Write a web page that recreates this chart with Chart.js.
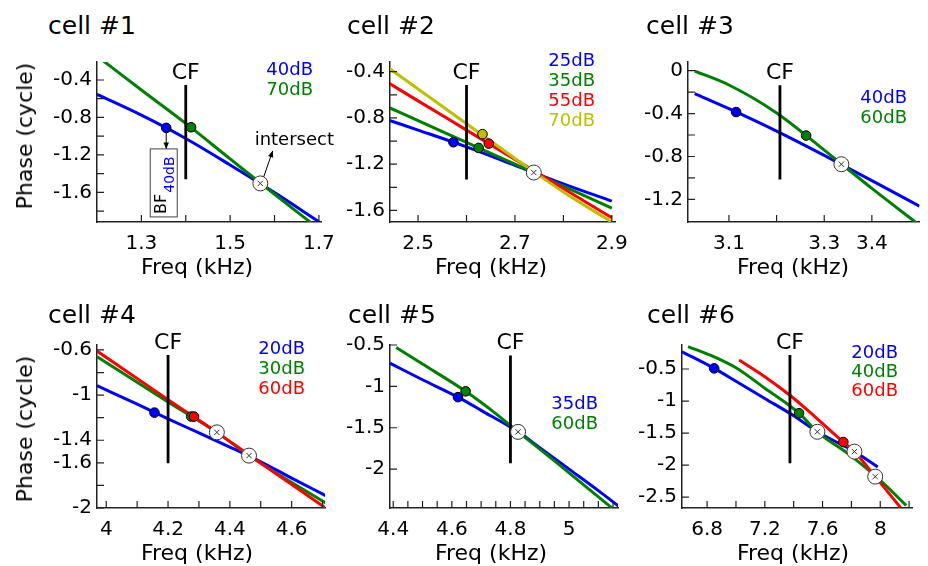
<!DOCTYPE html>
<html>
<head>
<meta charset="utf-8">
<script src="https://cdn.jsdelivr.net/npm/chart.js@4.4.1/dist/chart.umd.min.js"></script>
<style>
body{margin:0;background:#fff;width:928px;height:566px;position:relative;overflow:hidden;font-family:"DejaVu Sans",sans-serif;}
canvas{position:absolute;}
.t{position:absolute;white-space:nowrap;color:#000;}
.title{font-size:25px;line-height:30px;}
.xl{font-size:22px;line-height:26px;transform:translateX(-50%);}
.yl{font-size:22px;line-height:26px;transform:translate(-50%,-50%) rotate(-90deg);}
.lg{font-size:18px;line-height:20px;text-align:right;transform:translateX(-100%);}
</style>
</head>
<body>
<script>
const BLUE = '#0000ff', GREEN = '#008000', RED = '#ff0000', YELLOW = '#bfbf00';
const FONT = '"DejaVu Sans", sans-serif';

// ---- cell #1 ----
const c1Freq = [1.2, 1.3, 1.4, 1.5, 1.6, 1.7];
const c1Phase40 = [-0.553, -0.776, -1.025, -1.308, -1.603, -1.914];
const c1Phase70 = [-0.144, -0.507, -0.864, -1.243, -1.621, -1.99];
const c1DotFreq = [1.356, 1.412];
const c1DotPhase = [-0.912, -0.905];
const c1CrossFreq = [1.568];
const c1CrossPhase = [-1.505];
const c1CF = 1.4;
const c1CFPhase = [-0.453, -1.46];
const c1XTicks = [1.3, 1.4, 1.5, 1.6, 1.7];
const c1XText = ['1.3', '', '1.5', '', '1.7'];
const c1YTicks = [-0.4, -0.6, -0.8, -1.0, -1.2, -1.4, -1.6, -1.8];
const c1YText = ['-0.4', '', '-0.8', '', '-1.2', '', '-1.6', ''];

// ---- cell #2 ----
const c2Freq = [2.44, 2.5, 2.6, 2.7, 2.8, 2.9];
const c2Phase25 = [-0.82, -0.905, -1.05, -1.21, -1.37, -1.52];
const c2Phase35 = [-0.71, -0.823, -1.012, -1.2, -1.39, -1.58];
const c2Phase55 = [-0.50, -0.652, -0.905, -1.158, -1.41, -1.664];
const c2Phase70 = [-0.37, -0.55, -0.85, -1.15, -1.44, -1.70];
const c2DotFreq = [2.573, 2.625, 2.646, 2.633];
const c2DotPhase = [-1.01, -1.059, -1.022, -0.94];
const c2CrossFreq = [2.739];
const c2CrossPhase = [-1.272];
const c2CF = 2.6;
const c2CFPhase = [-0.515, -1.333];
const c2XTicks = [2.5, 2.6, 2.7, 2.8, 2.9];
const c2XText = ['2.5', '', '2.7', '', '2.9'];
const c2YTicks = [-0.4, -0.6, -0.8, -1.0, -1.2, -1.4, -1.6];
const c2YText = ['-0.4', '', '-0.8', '', '-1.2', '', '-1.6'];

// ---- cell #3 ----
const c3Freq = [3.028, 3.1, 3.2, 3.3, 3.4, 3.5];
const c3Phase40 = [-0.214, -0.355, -0.564, -0.79, -1.025, -1.262];
const c3Phase60 = [-0.004, -0.134, -0.394, -0.74, -1.097, -1.44];
const c3DotFreq = [3.115, 3.262];
const c3DotPhase = [-0.386, -0.605];
const c3CrossFreq = [3.336];
const c3CrossPhase = [-0.872];
const c3CF = 3.207;
const c3CFPhase = [-0.137, -1.014];
const c3XTicks = [3.1, 3.2, 3.3, 3.4];
const c3XText = ['3.1', '', '3.3', '3.4'];
const c3YTicks = [0, -0.2, -0.4, -0.6, -0.8, -1.0, -1.2];
const c3YText = ['0', '', '-0.4', '', '-0.8', '', '-1.2'];

// ---- cell #4 ----
const c4Freq20 = [3.97, 4.1, 4.2, 4.3, 4.4, 4.5, 4.6, 4.71];
const c4Phase20 = [-0.916, -1.08, -1.21, -1.335, -1.46, -1.59, -1.735, -1.89];
const c4FreqHi = [3.97, 4.2, 4.358, 4.462, 4.71];
const c4Phase30 = [-0.66, -1.06, -1.33, -1.536, -1.955];
const c4Phase60 = [-0.61, -1.04, -1.33, -1.53, -2.0];
const c4DotFreq = [4.156, 4.275, 4.284];
const c4DotPhase = [-1.155, -1.19, -1.19];
const c4CrossFreq = [4.358, 4.462];
const c4CrossPhase = [-1.33, -1.536];
const c4CF = 4.2;
const c4CFPhase = [-0.644, -1.604];
const c4XTicks = [4.0, 4.1, 4.2, 4.3, 4.4, 4.5, 4.6, 4.7];
const c4XText = ['4', '', '4.2', '', '4.4', '', '4.6', ''];
const c4YTicks = [-0.6, -0.8, -1.0, -1.2, -1.4, -1.6, -1.8, -2.0];
const c4YText = ['-0.6', '', '-1', '', '-1.4', '-1.6', '', '-2'];

// ---- cell #5 ----
const c5Freq35 = [4.389, 4.5, 4.621, 4.7, 4.826, 4.9, 5.0, 5.1, 5.17];
const c5Phase35 = [-0.72, -0.92, -1.13, -1.29, -1.55, -1.74, -2.0, -2.26, -2.45];
const c5Freq60 = [4.41, 4.5, 4.647, 4.75, 4.826, 4.95, 5.05, 5.15];
const c5Phase60 = [-0.53, -0.73, -1.06, -1.33, -1.55, -1.90, -2.19, -2.48];
const c5DotFreq = [4.621, 4.647];
const c5DotPhase = [-1.13, -1.06];
const c5CrossFreq = [4.826];
const c5CrossPhase = [-1.55];
const c5CF = 4.8;
const c5CFPhase = [-0.627, -1.93];
const c5XTicks = [4.4, 4.45, 4.5, 4.55, 4.6, 4.65, 4.7, 4.75, 4.8, 4.85, 4.9, 4.95, 5.0, 5.05, 5.1, 5.15];
const c5XText = ['4.4', '', '', '', '4.6', '', '', '', '4.8', '', '', '', '5', '', '', ''];
const c5YTicks = [-0.5, -1.0, -1.5, -2.0];
const c5YText = ['-0.5', '-1', '-1.5', '-2'];

// ---- cell #6 ----
const c6Freq20 = [6.626, 6.849, 7.0, 7.2, 7.4, 7.564, 7.821, 7.983];
const c6Phase20 = [-0.23, -0.49, -0.69, -0.96, -1.23, -1.48, -1.79, -2.03];
const c6Freq40 = [6.668, 6.849, 7.0, 7.2, 7.437, 7.564, 7.8, 8.0, 8.18];
const c6Phase40 = [-0.15, -0.31, -0.48, -0.80, -1.19, -1.48, -1.86, -2.24, -2.63];
const c6Freq60 = [7.022, 7.2, 7.374, 7.55, 7.744, 7.821, 7.965, 8.14];
const c6Phase60 = [-0.36, -0.62, -0.91, -1.25, -1.64, -1.79, -2.18, -2.66];
const c6DotFreq = [6.849, 7.437, 7.744];
const c6DotPhase = [-0.49, -1.19, -1.64];
const c6CrossFreq = [7.564, 7.821, 7.965];
const c6CrossPhase = [-1.48, -1.79, -2.18];
const c6CF = 7.374;
const c6CFPhase = [-0.281, -1.973];
const c6XTicks = [6.8, 7.0, 7.2, 7.4, 7.6, 7.8, 8.0, 8.2];
const c6XText = ['6.8', '', '7.2', '', '7.6', '', '8', ''];
const c6YTicks = [-0.5, -1.0, -1.5, -2.0, -2.5];
const c6YText = ['-0.5', '-1', '-1.5', '-2', '-2.5'];

const PAD_T = 20, HX = 35;

function pts(xs, ys) {
    return xs.map((x, i) => ({x, y: ys[i]}));
}

function arrow(ctx, x0, y0, x1, y1) {
    const a = Math.atan2(y1 - y0, x1 - x0), h = 7;
    ctx.beginPath(); ctx.moveTo(x0, y0); ctx.lineTo(x1, y1); ctx.stroke();
    ctx.beginPath(); ctx.moveTo(x1, y1);
    ctx.lineTo(x1 - h * Math.cos(a - 0.4), y1 - h * Math.sin(a - 0.4));
    ctx.lineTo(x1 - h * Math.cos(a + 0.4), y1 - h * Math.sin(a + 0.4));
    ctx.closePath(); ctx.fill();
}

// inward tick marks, CF label and the cell #1 notes
const annot = {
    id: 'annot',
    afterDatasetsDraw(chart, args, o) {
        const {ctx, chartArea: a, scales: {x, y}} = chart;
        ctx.save();
        ctx.strokeStyle = '#222';
        ctx.fillStyle = '#000';
        ctx.lineWidth = 1.2;
        ctx.beginPath();
        x.ticks.forEach(t => {
            const px = x.getPixelForValue(t.value);
            ctx.moveTo(px, a.bottom); ctx.lineTo(px, a.bottom - 7);
        });
        y.ticks.forEach(t => {
            const py = y.getPixelForValue(t.value);
            ctx.moveTo(a.left, py); ctx.lineTo(a.left + 7, py);
        });
        ctx.stroke();

        ctx.font = '22px ' + FONT;
        ctx.textAlign = 'center';
        ctx.textBaseline = 'bottom';
        ctx.fillText('CF', x.getPixelForValue(o.cf), y.getPixelForValue(o.cfTop) - 1);

        ctx.lineWidth = 1;
        ctx.strokeStyle = '#000';
        if (o.bf) {
            const px = x.getPixelForValue(o.bf[0]), py = y.getPixelForValue(o.bf[1]);
            arrow(ctx, px, py + 5, px, py + 21);
            const bx = px - 16, by = py + 21, bw = 27, bh = 68;
            ctx.strokeStyle = '#444';
            ctx.strokeRect(bx, by, bw, bh);
            ctx.save();
            ctx.translate(bx + 15.5, by + bh - 3);
            ctx.rotate(-Math.PI / 2);
            ctx.textAlign = 'left';
            ctx.textBaseline = 'alphabetic';
            ctx.font = '16px ' + FONT;
            ctx.fillText('BF', 0, 0);
            const w = ctx.measureText('BF').width;
            ctx.font = '14px ' + FONT;
            ctx.fillStyle = BLUE;
            ctx.fillText('40dB', w + 1, 8);
            ctx.restore();
        }
        if (o.ix) {
            const px = x.getPixelForValue(o.ix[0]), py = y.getPixelForValue(o.ix[1]);
            ctx.strokeStyle = '#000';
            arrow(ctx, px + 3.4, py - 6.6, px + 12.4, py - 32.6);
            ctx.font = '18px ' + FONT;
            ctx.textAlign = 'center';
            ctx.textBaseline = 'middle';
            ctx.fillText('intersect', px + 34, py - 43);
        }
        ctx.restore();
    }
};

function addText(text, cls, left, top, color) {
    const d = document.createElement('div');
    d.className = 't ' + cls;
    d.textContent = text;
    d.style.left = left + 'px';
    d.style.top = top + 'px';
    if (color) d.style.color = color;
    document.body.appendChild(d);
}

function makePanel(p) {
    const [L, T, R, B] = p.area;
    const W = p.wy + (R - L) + p.padR;
    const H = PAD_T + (B - T) + HX;
    const cv = document.createElement('canvas');
    cv.width = W; cv.height = H;
    cv.style.left = (L - p.wy) + 'px';
    cv.style.top = (T - PAD_T) + 'px';
    cv.style.width = W + 'px';
    cv.style.height = H + 'px';
    document.body.appendChild(cv);

    const datasets = [];
    datasets.push({
        data: pts(p.crossX, p.crossY), pointStyle: 'crossRot', pointRadius: 3.8,
        borderColor: '#333', pointBorderWidth: 1, showLine: false, order: 0
    });
    datasets.push({
        data: pts(p.crossX, p.crossY), pointStyle: 'circle', pointRadius: 7.5,
        backgroundColor: '#fff', borderColor: '#333', pointBorderWidth: 1, showLine: false, order: 1
    });
    datasets.push({
        data: pts(p.dotX, p.dotY), pointRadius: 4.8,
        pointBackgroundColor: p.series.map(s => s.color), pointBorderColor: '#000',
        pointBorderWidth: 1, showLine: false, order: 2
    });
    datasets.push({
        data: pts([p.cf, p.cf], p.cfY), showLine: true, borderColor: '#000',
        borderWidth: 2.8, pointRadius: 0, order: 3
    });
    p.series.forEach((s, i) => {
        datasets.push({
            label: s.label, data: pts(s.x, s.y), showLine: true,
            borderColor: s.color, borderWidth: 3, pointRadius: 0,
            cubicInterpolationMode: 'monotone', order: 10 + p.series.length - i
        });
    });

    new Chart(cv, {
        type: 'scatter',
        data: {datasets},
        options: {
            responsive: false,
            animation: false,
            layout: {padding: {left: 0, top: PAD_T, right: p.padR, bottom: 0}},
            plugins: {
                legend: {display: false},
                tooltip: {enabled: false},
                annot: {cf: p.cf, cfTop: p.cfY[0], bf: p.bf, ix: p.ix}
            },
            scales: {
                x: {
                    type: 'linear', min: p.xr[0], max: p.xr[1],
                    afterFit: s => { s.height = HX; },
                    afterBuildTicks: s => { s.ticks = p.xTicks.map(v => ({value: v})); },
                    ticks: {
                        autoSkip: false, maxRotation: 0, padding: 10, color: '#000',
                        font: {family: FONT, size: 20},
                        callback: (v, i) => p.xText[i]
                    },
                    grid: {display: false, drawTicks: false},
                    border: {display: true, color: '#222', width: 1.5}
                },
                y: {
                    type: 'linear', min: p.yr[0], max: p.yr[1],
                    afterFit: s => { s.width = p.wy; },
                    afterBuildTicks: s => { s.ticks = p.yTicks.map(v => ({value: v})); },
                    ticks: {
                        autoSkip: false, padding: 5, color: '#000',
                        font: {family: FONT, size: 20},
                        callback: (v, i) => p.yText[i]
                    },
                    grid: {display: false, drawTicks: false},
                    border: {display: true, color: '#222', width: 1.5}
                }
            }
        },
        plugins: [annot]
    });

    addText(p.title, 'title', p.titlePos[0], p.titlePos[1] - 15);
    addText('Freq (kHz)', 'xl', p.xlPos[0], p.xlPos[1] - 13);
    if (p.ylPos) addText('Phase (cycle)', 'yl', p.ylPos[0], p.ylPos[1]);
    p.series.forEach((s, i) => {
        addText(s.label, 'lg', p.lgPos[0], p.lgPos[1] - 10 + i * p.lgPos[2], s.color);
    });
}

makePanel({
    title: 'cell #1', titlePos: [48, 26], xlPos: [197, 267], ylPos: [25, 136], lgPos: [313, 69, 19.5],
    area: [97, 62, 325, 222], wy: 97, padR: 20,
    xr: [1.2, 1.705], yr: [-1.917, -0.208],
    xTicks: c1XTicks, xText: c1XText, yTicks: c1YTicks, yText: c1YText,
    series: [
        {label: '40dB', color: BLUE, x: c1Freq, y: c1Phase40},
        {label: '70dB', color: GREEN, x: c1Freq, y: c1Phase70}
    ],
    dotX: c1DotFreq, dotY: c1DotPhase, crossX: c1CrossFreq, crossY: c1CrossPhase,
    cf: c1CF, cfY: c1CFPhase,
    bf: [c1DotFreq[0], c1DotPhase[0]], ix: [c1CrossFreq[0], c1CrossPhase[0]]
});

makePanel({
    title: 'cell #2', titlePos: [347, 26], xlPos: [491, 267], lgPos: [595, 60, 20],
    area: [390, 62, 618, 222], wy: 90, padR: 20,
    xr: [2.442, 2.907], yr: [-1.70, -0.316],
    xTicks: c2XTicks, xText: c2XText, yTicks: c2YTicks, yText: c2YText,
    series: [
        {label: '25dB', color: BLUE, x: c2Freq, y: c2Phase25},
        {label: '35dB', color: GREEN, x: c2Freq, y: c2Phase35},
        {label: '55dB', color: RED, x: c2Freq, y: c2Phase55},
        {label: '70dB', color: YELLOW, x: c2Freq, y: c2Phase70}
    ],
    dotX: c2DotFreq, dotY: c2DotPhase, crossX: c2CrossFreq, crossY: c2CrossPhase,
    cf: c2CF, cfY: c2CFPhase
});

makePanel({
    title: 'cell #3', titlePos: [646, 26], xlPos: [793, 267], lgPos: [907, 97, 20],
    area: [688, 62, 923, 222], wy: 68, padR: 5,
    xr: [3.014, 3.5], yr: [-1.41, 0.08],
    xTicks: c3XTicks, xText: c3XText, yTicks: c3YTicks, yText: c3YText,
    series: [
        {label: '40dB', color: BLUE, x: c3Freq, y: c3Phase40},
        {label: '60dB', color: GREEN, x: c3Freq, y: c3Phase60}
    ],
    dotX: c3DotFreq, dotY: c3DotPhase, crossX: c3CrossFreq, crossY: c3CrossPhase,
    cf: c3CF, cfY: c3CFPhase
});

makePanel({
    title: 'cell #4', titlePos: [48, 315], xlPos: [197, 553], ylPos: [25, 429], lgPos: [305, 348, 20],
    area: [97, 345, 325, 508], wy: 97, padR: 20,
    xr: [3.97, 4.708], yr: [-2.0, -0.556],
    xTicks: c4XTicks, xText: c4XText, yTicks: c4YTicks, yText: c4YText,
    series: [
        {label: '20dB', color: BLUE, x: c4Freq20, y: c4Phase20},
        {label: '30dB', color: GREEN, x: c4FreqHi, y: c4Phase30},
        {label: '60dB', color: RED, x: c4FreqHi, y: c4Phase60}
    ],
    dotX: c4DotFreq, dotY: c4DotPhase, crossX: c4CrossFreq, crossY: c4CrossPhase,
    cf: c4CF, cfY: c4CFPhase
});

makePanel({
    title: 'cell #5', titlePos: [348, 315], xlPos: [491, 553], lgPos: [598, 403, 20],
    area: [390, 345, 618, 508], wy: 90, padR: 20,
    xr: [4.389, 5.167], yr: [-2.47, -0.5],
    xTicks: c5XTicks, xText: c5XText, yTicks: c5YTicks, yText: c5YText,
    series: [
        {label: '35dB', color: BLUE, x: c5Freq35, y: c5Phase35},
        {label: '60dB', color: GREEN, x: c5Freq60, y: c5Phase60}
    ],
    dotX: c5DotFreq, dotY: c5DotPhase, crossX: c5CrossFreq, crossY: c5CrossPhase,
    cf: c5CF, cfY: c5CFPhase
});

makePanel({
    title: 'cell #6', titlePos: [647, 315], xlPos: [793, 553], lgPos: [898, 352, 19],
    area: [682, 345, 912, 508], wy: 62, padR: 10,
    xr: [6.626, 8.22], yr: [-2.67, -0.125],
    xTicks: c6XTicks, xText: c6XText, yTicks: c6YTicks, yText: c6YText,
    series: [
        {label: '20dB', color: BLUE, x: c6Freq20, y: c6Phase20},
        {label: '40dB', color: GREEN, x: c6Freq40, y: c6Phase40},
        {label: '60dB', color: RED, x: c6Freq60, y: c6Phase60}
    ],
    dotX: c6DotFreq, dotY: c6DotPhase, crossX: c6CrossFreq, crossY: c6CrossPhase,
    cf: c6CF, cfY: c6CFPhase
});
</script>
</body>
</html>
